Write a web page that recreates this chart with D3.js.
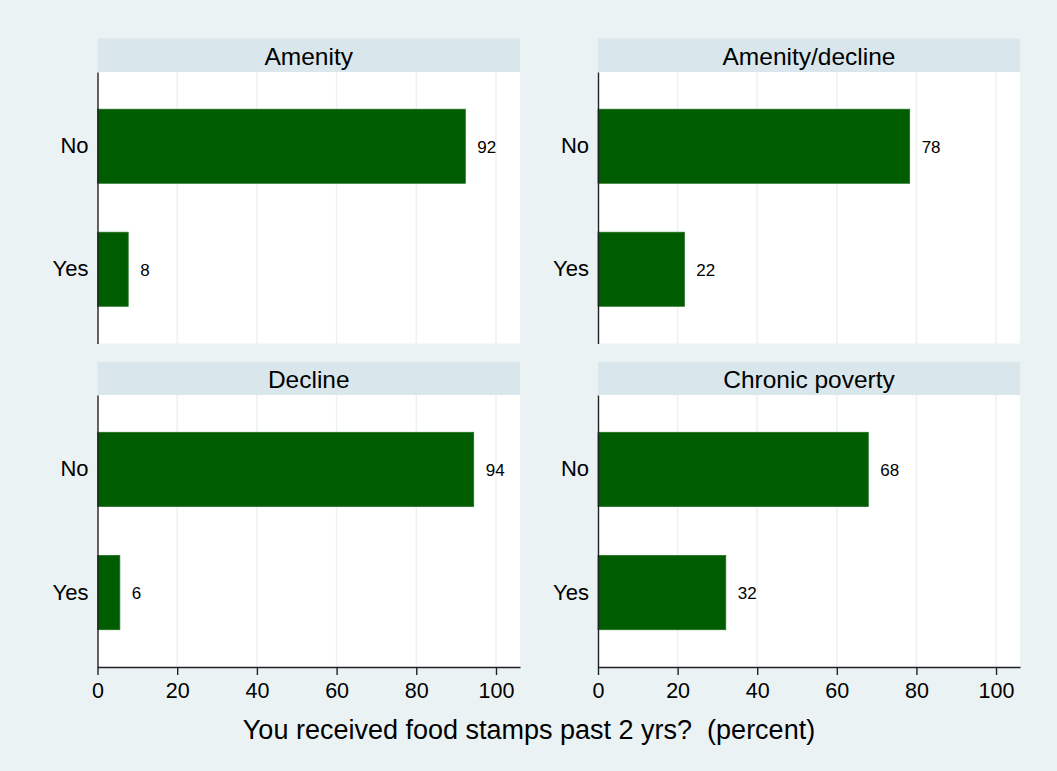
<!DOCTYPE html>
<html>
<head>
<meta charset="utf-8">
<script src="https://cdn.jsdelivr.net/npm/d3@7"></script>
<style>
  html, body { margin: 0; padding: 0; background: #EAF2F3; }
  svg { display: block; }
  text { font-family: Arial, "Liberation Sans", Helvetica, sans-serif; fill: #000; }
</style>
</head>
<body>
<script>
// ---- data ----
const panels = ["Amenity", "Amenity/decline", "Decline", "Chronic poverty"];
const categories = ["No", "Yes"];
const noValues = [92.3, 78.3, 94.4, 67.9];
const yesValues = [7.7, 21.7, 5.6, 32.1];
const xTicks = [0, 20, 40, 60, 80, 100];
const xTitle = "You received food stamps past 2 yrs?  (percent)";

// ---- layout ----
const W = 1057, H = 771;
const svg = d3.select("body").append("svg").attr("width", W).attr("height", H);
svg.append("rect").attr("width", W).attr("height", H).attr("fill", "#EAF2F3");

const cols = [{ x0: 97.5, x1: 520 }, { x0: 598, x1: 1020 }];
const rows = [{ s0: 38.5, p0: 72, p1: 343.5 }, { s0: 362, p0: 395, p1: 667 }];

const xDomainMax = (cols[0].x1 - cols[0].x0) / 3.985;

panels.forEach((name, i) => {
  const c = cols[i % 2], r = rows[Math.floor(i / 2)];
  const isBottom = Math.floor(i / 2) === 1;
  const x = d3.scaleLinear().domain([0, xDomainMax]).range([c.x0, c.x1]);
  const y = d3.scaleBand().domain(categories).range([r.p0, r.p1])
    .paddingInner(0.398).paddingOuter(0.3027);
  const vals = [noValues[i], yesValues[i]];
  const g = svg.append("g");

  // strip
  g.append("rect").attr("x", c.x0).attr("y", r.s0)
    .attr("width", c.x1 - c.x0).attr("height", r.p0 - r.s0).attr("fill", "#D9E6EB");
  g.append("text").attr("x", (c.x0 + c.x1) / 2).attr("y", (r.s0 + r.p0) / 2 + 1)
    .attr("text-anchor", "middle").attr("dominant-baseline", "central")
    .attr("font-size", 24.5).text(name);

  // plot region
  g.append("rect").attr("x", c.x0).attr("y", r.p0)
    .attr("width", c.x1 - c.x0).attr("height", r.p1 - r.p0).attr("fill", "#FFFFFF");

  // grid
  g.selectAll("line.grid").data(xTicks.filter(t => t > 0)).join("line")
    .attr("x1", d => x(d)).attr("x2", d => x(d))
    .attr("y1", r.p0).attr("y2", r.p1)
    .attr("stroke", "#EAF2F3").attr("stroke-width", 1.5);

  // bars
  g.selectAll("rect.bar").data(categories).join("rect")
    .attr("x", x(0)).attr("y", d => y(d))
    .attr("width", (d, k) => x(vals[k]) - x(0))
    .attr("height", y.bandwidth())
    .attr("fill", "#005C00").attr("stroke", "#1F6F1F").attr("stroke-width", 0.8);

  // value labels
  g.selectAll("text.val").data(categories).join("text")
    .attr("x", (d, k) => x(vals[k]) + 12)
    .attr("y", d => y(d) + y.bandwidth() / 2 + 1)
    .attr("dominant-baseline", "central").attr("font-size", 17)
    .text((d, k) => d3.format(".0f")(vals[k]));

  // y axis
  const yAxis = d3.axisLeft(y).tickSize(0).tickPadding(9);
  const ya = g.append("g").attr("transform", `translate(${c.x0},0)`).call(yAxis);
  ya.select(".domain").attr("stroke", "#222").attr("stroke-width", 1.4);
  ya.selectAll("text").attr("font-size", 22).attr("fill", "#000")
    .style("font-family", "Arial, 'Liberation Sans', sans-serif");

  // x axis (bottom row only)
  if (isBottom) {
    const xAxis = d3.axisBottom(x).tickValues(xTicks).tickSize(8).tickPadding(8).tickSizeOuter(0);
    const xa = g.append("g").attr("transform", `translate(0,${r.p1})`).call(xAxis);
    xa.select(".domain").attr("stroke", "#222").attr("stroke-width", 1.4);
    xa.selectAll(".tick line").attr("stroke", "#222").attr("stroke-width", 1.4);
    xa.selectAll("text").attr("font-size", 21.5).attr("fill", "#000")
      .style("font-family", "Arial, 'Liberation Sans', sans-serif");
  }
});

// x title
svg.append("text").attr("x", 529).attr("y", 739)
  .attr("text-anchor", "middle").attr("font-size", 27)
  .attr("xml:space", "preserve").style("white-space", "pre").text(xTitle);
</script>
</body>
</html>
